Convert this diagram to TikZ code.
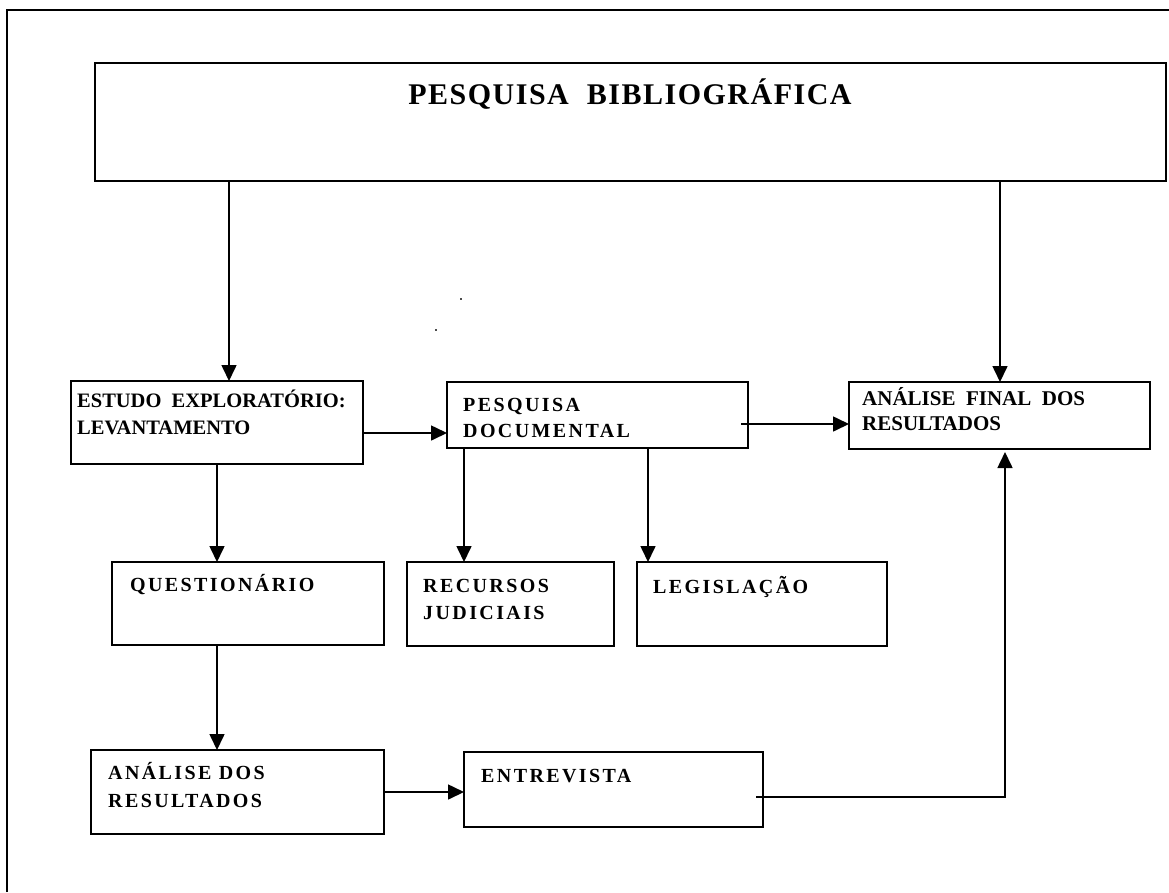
\documentclass[tikz,border=0pt]{standalone}
\usepackage{fontspec}
\setmainfont{Liberation Serif}
\newfontfamily\lsA[LetterSpace=12]{Liberation Serif}
\newfontfamily\lsB[LetterSpace=5]{Liberation Serif}
\usetikzlibrary{arrows.meta}
\begin{document}
\begin{tikzpicture}[x=1pt,y=-1pt,
  box/.style={draw, line width=1.6pt, inner sep=0pt, outer sep=0pt, anchor=north west},
  tA/.style={anchor=base west, inner sep=0pt, font=\bfseries\fontsize{20.5}{24}\selectfont},
  tB/.style={anchor=base west, inner sep=0pt, font=\lsA\bfseries\fontsize{20}{24}\selectfont},
  arr/.style={line width=1.6pt, -{Triangle[length=16pt,width=15pt]}},
  frame/.style={line width=1.8pt},
  speck/.style={fill=black!70, inner sep=0pt, minimum size=1.6pt}]
\useasboundingbox (0,0) rectangle (1169,892);
% outer frame (cut off at right and bottom)
\draw[frame] (7,892) -- (7,10) -- (1169,10);
% boxes
\node[box, minimum width=1071pt, minimum height=118pt] (bib) at (95,63) {};
\node[box, minimum width=292pt, minimum height=83pt] (estudo) at (71,381) {};
\node[box, minimum width=301pt, minimum height=66pt] (doc) at (447,382) {};
\node[box, minimum width=301pt, minimum height=67pt] (final) at (849,382) {};
\node[box, minimum width=272pt, minimum height=83pt] (quest) at (112,562) {};
\node[box, minimum width=207pt, minimum height=84pt] (recursos) at (407,562) {};
\node[box, minimum width=250pt, minimum height=84pt] (legis) at (637,562) {};
\node[box, minimum width=293pt, minimum height=84pt] (analise) at (91,750) {};
\node[box, minimum width=299pt, minimum height=75pt] (entrev) at (464,752) {};
% texts
\node[anchor=base, inner sep=0pt, font=\lsB\bfseries\fontsize{30}{36}\selectfont] (tbib) at (630,104) {PESQUISA\ \ BIBLIOGRÁFICA};
\node[tA] (test1) at (77,407) {ESTUDO\ \ EXPLORATÓRIO:};
\node[tA] (test2) at (77,434) {LEVANTAMENTO};
\node[tB] (tdoc1) at (463,411) {PESQUISA};
\node[tB] (tdoc2) at (463,437) {DOCUMENTAL};
\node[tA, font=\bfseries\fontsize{21}{24}\selectfont] (tfin1) at (862,405) {ANÁLISE\ \ FINAL\ \ DOS};
\node[tA, font=\bfseries\fontsize{21}{24}\selectfont] (tfin2) at (862,430) {RESULTADOS};
\node[tB] (tquest) at (130,591) {QUESTIONÁRIO};
\node[tB] (trec1) at (423,592) {RECURSOS};
\node[tB] (trec2) at (423,619) {JUDICIAIS};
\node[tB] (tleg) at (653,593) {LEGISLAÇÃO};
\node[tB] (tan1) at (108,779) {ANÁLISE DOS};
\node[tB] (tan2) at (108,807) {RESULTADOS};
\node[tB] (tent) at (481,782) {ENTREVISTA};
% stray specks
\node[speck] (s1) at (461,299) {};
\node[speck] (s2) at (436,330) {};
% connectors
\draw[arr] (bib.south -| 229,0) -- (estudo.north -| 229,0);
\draw[arr] (bib.south -| 1000,0) -- (final.north -| 1000,0);
\draw[arr] (estudo.east |- 0,433) -- (doc.west |- 0,433);
\path (doc.east |- 0,424) ++(-7,0) coordinate (d1);
\draw[arr] (d1) -- (final.west |- 0,424);
\draw[arr] (estudo.south -| 217,0) -- (quest.north -| 217,0);
\draw[arr] (doc.south -| 464,0) -- (recursos.north -| 464,0);
\draw[arr] (doc.south -| 648,0) -- (legis.north -| 648,0);
\draw[arr] (quest.south -| 217,0) -- (analise.north -| 217,0);
\draw[arr] (analise.east |- 0,792) -- (entrev.west |- 0,792);
\path (entrev.east |- 0,797) ++(-7,0) coordinate (e1);
\path (final.south -| 1005,0) ++(0,3) coordinate (f1);
\draw[arr] (e1) -| (f1);
\end{tikzpicture}
\end{document}
